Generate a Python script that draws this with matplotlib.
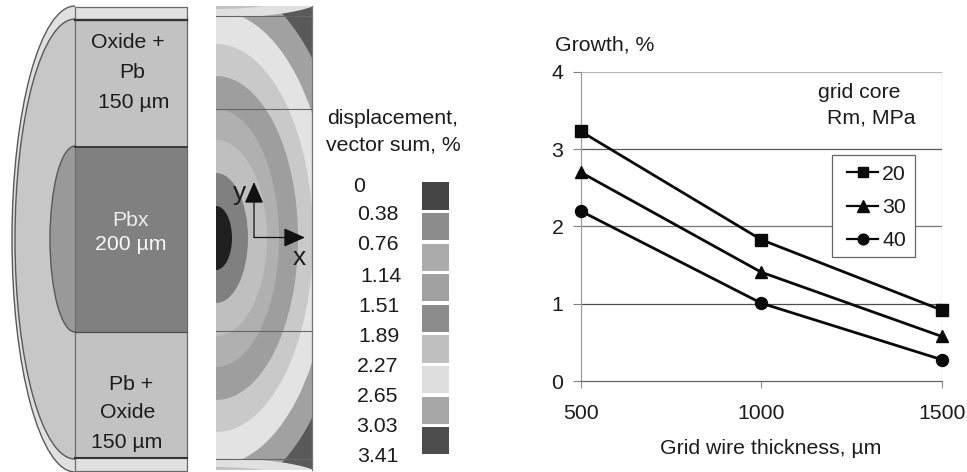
import matplotlib
matplotlib.use("Agg")
import matplotlib.pyplot as plt
from matplotlib.patches import Ellipse, Rectangle

plt.rcParams['font.family'] = ['Liberation Sans', 'DejaVu Sans']
W, H = 967, 472
TXT = '#1c1c1c'
FS = 15.3

# ---- chart data ----
thickness = [500, 1000, 1500]
growth_20 = [3.23, 1.83, 0.92]
growth_30 = [2.70, 1.41, 0.58]
growth_40 = [2.20, 1.01, 0.28]
y_ticks = [0, 1, 2, 3, 4]
scale_labels = ['0', '0.38', '0.76', '1.14', '1.51', '1.89', '2.27', '2.65', '3.03', '3.41']

# ---- styles / geometry ----
scale_grey = ['0.27', '0.55', '0.67', '0.63', '0.55', '0.75', '0.87', '0.65', '0.30']
scale_label_x = [353, 357, 357, 360, 358, 358, 357, 357, 356, 357]
scale_label_y = [186, 215, 245, 277, 307, 336, 366, 396, 427, 456]
contour_a = [134, 115, 97, 82, 63, 51, 32, 16]
contour_b = [258, 227, 194, 162, 129, 98, 65, 32]
contour_c = ['0.63', '0.89', '0.79', '0.62', '0.69', '0.75', '0.50', '0.12']

fig = plt.figure(figsize=(W / 100, H / 100), dpi=100, facecolor='white')
px = fig.add_axes([0, 0, 1, 1])
px.set_xlim(0, W)
px.set_ylim(H, 0)
px.axis('off')


def put(x, y, s, ha='center', color=TXT, size=FS):
    px.text(x, y, s, ha=ha, va='center', color=color, fontsize=size)


# ---- left schematic ----
cx, cy = 75, 239
clip_l = Rectangle((0, 0), 75, H, transform=px.transData)
for a, b, c, lw in [(63, 233, '0.88', 1.0), (60, 220, '0.78', 1.0), (25, 93, '0.60', 1.0)]:
    e = Ellipse((cx, cy), 2 * a, 2 * b, fc=c, ec='0.35', lw=lw)
    px.add_patch(e)
    e.set_clip_path(clip_l)
for y0, y1, c in [(7, 20, '0.88'), (20, 147, '0.76'), (147, 332, '0.50'),
                  (332, 458, '0.76'), (458, 471, '0.88')]:
    px.add_patch(Rectangle((75, y0), 112, y1 - y0, fc=c, ec='none'))
px.plot([75, 187, 187, 75, 75], [7, 7, 471, 471, 7], color='0.42', lw=0.9)
for y, lw, c in [(20, 1.7, '0.2'), (147, 1.3, '0.2'), (332, 0.9, '0.3'), (458, 1.5, '0.2')]:
    px.plot([75, 187], [y, y], color=c, lw=lw)
for x, y, s in [(128, 43, 'Oxide +'), (132, 72, 'Pb'), (134, 102, '150 µm'),
                (131, 385, 'Pb +'), (128, 412, 'Oxide'), (127, 443, '150 µm')]:
    put(x, y, s)
put(130, 220, 'Pbx', color='0.93')
put(131, 245, '200 µm', color='0.97')

# ---- contour map ----
clip_r = Rectangle((216, 6), 96, 464, transform=px.transData)
px.add_patch(Rectangle((216, 6), 96, 464, fc='0.35', ec='none'))
for a, b, c in zip(contour_a, contour_b, contour_c):
    e = Ellipse((216, 238), 2 * a, 2 * b, fc=c, ec='none')
    px.add_patch(e)
    e.set_clip_path(clip_r)
for yc, b2, b3 in [(-4, 22, 13), (480, 22, 13)]:
    e = Ellipse((216, yc), 220, 2 * b2, fc='0.88', ec='none')
    px.add_patch(e)
    e.set_clip_path(clip_r)
    e = Ellipse((216, yc), 150, 2 * b3, fc='0.76', ec='none')
    px.add_patch(e)
    e.set_clip_path(clip_r)
for y in [16, 109, 331, 459]:
    px.plot([216, 312], [y, y], color='0.4', lw=0.8)
px.plot([312, 312], [6, 470], color='0.45', lw=0.9)
arrow = dict(arrowstyle='-|>,head_length=0.95,head_width=0.42', color='#111111', lw=0.9,
             shrinkA=0, shrinkB=0, mutation_scale=14)
px.annotate('', xy=(254, 182), xytext=(254, 237.5), arrowprops=arrow)
px.annotate('', xy=(305, 237.5), xytext=(254, 237.5), arrowprops=arrow)
put(240, 193, 'y', size=19)
put(299, 258, 'x', size=19)

# ---- colour scale ----
put(393, 118, 'displacement,')
put(393, 145, 'vector sum, %')
for i, c in enumerate(scale_grey):
    px.add_patch(Rectangle((422, 182.3 + i * 30.6), 27, 27.2, fc=c, ec='none'))
for x, y, s in zip(scale_label_x, scale_label_y, scale_labels):
    put(x, y, s, ha='left')

# ---- line chart ----
x0, x1 = 580.7, 941.7
y4, y0_ = 71.7, 381.3
ax = fig.add_axes([x0 / W, 1 - y0_ / H, (x1 - x0) / W, (y0_ - y4) / H])
ax.patch.set_alpha(0)
ax.set_xlim(500, 1500)
ax.set_ylim(0, 4)
for s in ['top', 'right']:
    ax.spines[s].set_visible(False)
ax.spines['left'].set_color('0.62')
ax.spines['bottom'].set_color('0.4')
ax.spines['left'].set_linewidth(0.9)
ax.spines['bottom'].set_linewidth(0.9)
ax.set_xticks(thickness)
ax.set_yticks(y_ticks)
ax.tick_params(axis='x', length=5, width=0.8, color='0.55', labelsize=FS, labelcolor=TXT, pad=11)
ax.tick_params(axis='y', length=5.5, width=0.8, color='0.5', labelsize=FS, labelcolor=TXT, pad=7)
for v, c in [(1, '0.3'), (2, '0.45'), (3, '0.35'), (4, '0.72')]:
    ax.axhline(v, color=c, lw=0.9, zorder=1)
ax.plot([1500, 1500], [0, 4], color='0.75', lw=0.9, zorder=1)
ax.add_patch(Rectangle((832, 155), 83, 102, transform=px.transData, fc='white', ec='0.4',
                       lw=0.9, zorder=3, clip_on=False))
series = [(growth_20, 's', 8.6, '20'), (growth_30, '^', 9.0, '30'), (growth_40, 'o', 8.6, '40')]
for vals, m, ms, lab in series:
    ax.plot(thickness, vals, color='#0a0a0a', lw=2.0, marker=m, ms=ms, label=lab,
            clip_on=False, zorder=4)
leg = ax.legend(loc='center', bbox_to_anchor=(876.5, 207.5), bbox_transform=px.transData,
                fontsize=FS, frameon=False, handlelength=1.45, handletextpad=0.2,
                labelspacing=0.68, borderpad=0.6, markerscale=0.9, labelcolor=TXT)
leg.set_zorder(5)
for h in leg.legend_handles:
    h.set_linewidth(1.6)
put(555, 45, 'Growth, %', ha='left')
put(818, 93, 'grid core', ha='left')
put(827, 118, 'Rm, MPa', ha='left')
put(771, 448, 'Grid wire thickness, µm')

fig.savefig('out.png', dpi=100, facecolor='white')
